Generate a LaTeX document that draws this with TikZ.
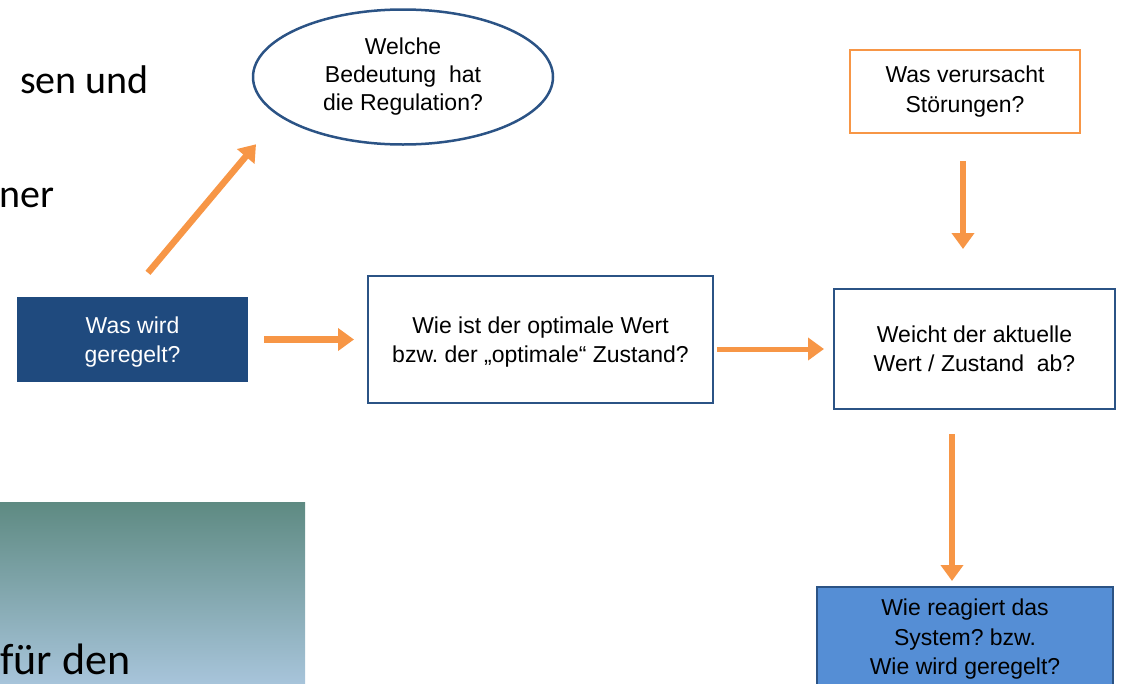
\documentclass[tikz,border=0pt]{standalone}
\usepackage{fontspec}
\setmainfont{Liberation Sans}
\newfontfamily\slidefont{Carlito}
\usepackage{xcolor}
\usetikzlibrary{arrows.meta,shapes.geometric}
\definecolor{rahmen}{HTML}{2B5385}
\definecolor{dunkel}{HTML}{1F4A7E}
\definecolor{hell}{HTML}{558ED5}
\definecolor{pfeilorange}{HTML}{F79646}
\definecolor{gruenoben}{HTML}{5E8A82}
\definecolor{blauunten}{HTML}{A7C4DA}
\frenchspacing

\begin{document}
\begin{tikzpicture}[x=1pt,y=-1pt,
    frage/.style={rectangle,align=center,inner sep=0pt,font=\fontsize{23}{29.5}\selectfont},
    pfeil/.style={draw=pfeilorange,line width=6.5pt,-{Triangle[length=16pt,width=22pt]}},
    folie/.style={anchor=base west,inner sep=0pt,font=\slidefont\fontsize{40}{48}\selectfont}]
    \useasboundingbox (0,0) rectangle (1124,683);
    \clip (0,0) rectangle (1124,683);
    % Reste der Folie
    \shade[top color=gruenoben, bottom color=blauunten] (0,502) rectangle (305,683);
    \node [folie] (t1) at (20,93) {sen und};
    \node [folie] (t2) at (-1,207) {ner};
    \node [folie, font=\slidefont\fontsize{44}{50}\selectfont] (t3) at (0,674) {für den};
    % Fragen
    \node [frage, ellipse, draw=rahmen, line width=2.5pt, minimum width=300pt, minimum height=135pt,
      font=\fontsize{23}{28}\selectfont] (ell) at (403,77)
      {Welche\\Bedeutung\ \ hat\\die Regulation?};
    \node [frage, draw=pfeilorange, line width=2pt, minimum width=230pt, minimum height=83pt]
      (stoer) at (965,91.5) {Was verursacht\\Störungen?};
    \node [frage, fill=dunkel, text=white, minimum width=231pt, minimum height=85pt,
      text depth=-2pt] (was) at (132.5,339.5) {Was wird\\geregelt?};
    \node [frage, draw=rahmen, line width=2pt, minimum width=345pt, minimum height=127pt,
      text depth=-2pt] (opt) at (540.5,339.5) {Wie ist der optimale Wert\\bzw. der „optimale“ Zustand?};
    \node [frage, draw=rahmen, line width=2pt, minimum width=281pt, minimum height=120pt]
      (weicht) at (974.5,349) {Weicht der aktuelle\\Wert / Zustand\ \ ab?};
    \node [frage, fill=hell, draw=rahmen, line width=2pt, minimum width=296pt, minimum height=100pt,
      text depth=-1pt] (reag) at (965,637)
      {Wie reagiert das\\System? bzw.\\Wie wird geregelt?};
    % Pfeile
    \draw [pfeil] ([shift={(15.5pt,24pt)}]was.north) -- ([shift={(-147pt,1.5pt)}]ell.south);
    \draw [pfeil, shorten <=16pt, shorten >=13pt] (was.east) -- (opt.west);
    \draw [pfeil, line width=5pt, shorten <=3pt, shorten >=9pt]
      ([yshift=-9.5pt]opt.east) -- (weicht.west);
    \draw [pfeil, shorten <=27pt, shorten >=39pt] ([xshift=-2pt]stoer.south) -- ([xshift=-2pt]stoer.south |- weicht.north);
    \draw [pfeil, shorten <=24pt, shorten >=5pt] ([xshift=-22.5pt]weicht.south) -- ([xshift=-13pt]reag.north);
\end{tikzpicture}
\end{document}
